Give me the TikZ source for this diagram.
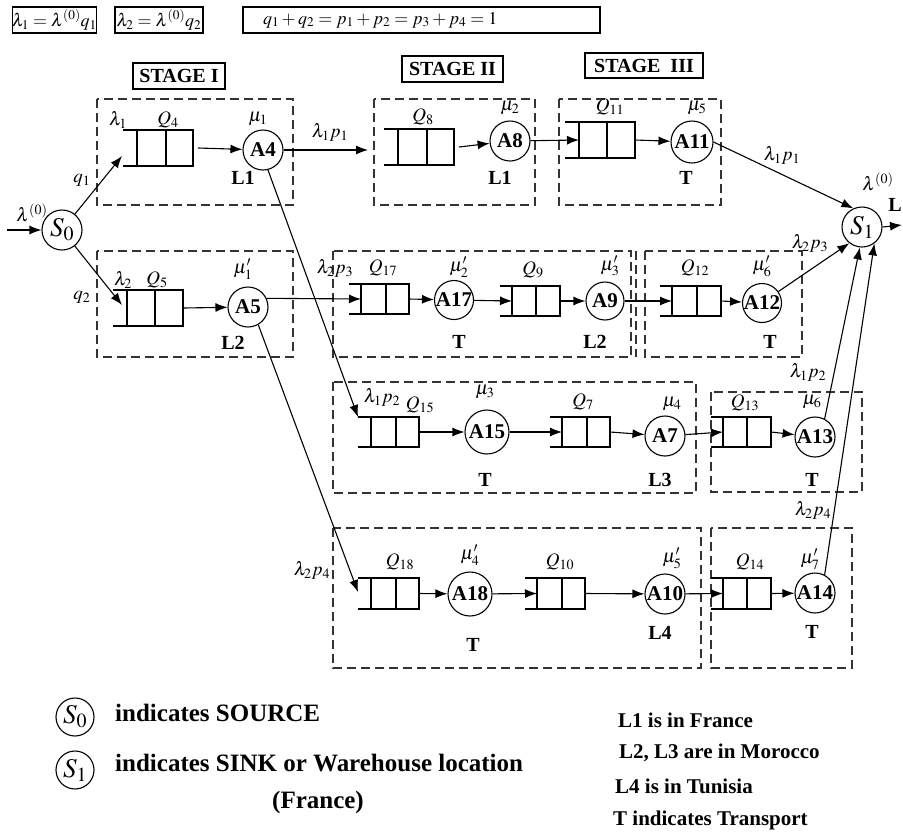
\documentclass[tikz,border=0pt]{standalone}
\usepackage{mathptmx}
\usepackage{fontspec}
\setmainfont{Liberation Serif}
\usetikzlibrary{arrows.meta}
\newcommand\myqueue[7]{%
  \node[qbox, minimum width={#5-#3}, minimum height={#7-#6}, anchor=north west] (#1) at (#3,#6) {};
  \draw[qline] (#4,#6) -- (#4,#7);
  \draw[qline] (#2,#6) -- (#1.north west) (#2,#7) -- (#1.south west);
}
\tikzset{
  qbox/.style={draw, line width=1.1pt, inner sep=0pt, outer sep=0pt},
  qline/.style={line width=1.1pt},
  srv/.style={circle, draw, line width=1.1pt, inner sep=0pt, minimum size=40pt, font=\bfseries\fontsize{21}{23}\selectfont},
  srvb/.style={srv, minimum size=44pt},
  snode/.style={circle, draw, line width=1.1pt, inner sep=0pt, minimum size=40pt, font=\fontsize{27}{29}\selectfont},
  dbox/.style={draw=black!80, line width=1.1pt, dash pattern=on 9pt off 5pt},
  arr/.style={-{Latex[length=12pt,width=9pt]}, line width=1.1pt},
  ml/.style={inner sep=0pt, font=\fontsize{19}{21}\selectfont},
  bl/.style={inner sep=0pt, font=\bfseries\fontsize{20}{22}\selectfont},
  tbox/.style={draw, line width=1.1pt, inner sep=0pt, font=\fontsize{18}{20}\selectfont},
  sbox/.style={draw, line width=1.1pt, inner sep=0pt, font=\bfseries\fontsize{20}{22}\selectfont},
  leg/.style={inner sep=0pt, font=\bfseries\fontsize{25}{27}\selectfont},
  legr/.style={inner sep=0pt, anchor=west, font=\bfseries\fontsize{21}{23}\selectfont},
}
\begin{document}
\begin{tikzpicture}[x=1pt,y=-1pt]
\fill[white] (0,0) rectangle (903,831);
\useasboundingbox (0,0) rectangle (903,831);

% top formula boxes
\node[tbox, minimum width=81pt, minimum height=26pt] (eq1) at (54.5,20) {$\lambda_1=\lambda^{(0)}q_1$};
\node[tbox, minimum width=88pt, minimum height=26pt] (eq2) at (159,20) {$\lambda_2=\lambda^{(0)}q_2$};
\node[tbox, minimum height=26pt, text width=357pt, align=left] (eq3) at (421.5,20) {\hspace*{20pt}$q_1+q_2=p_1+p_2=p_3+p_4=1$};
\node[sbox, minimum width=92pt, minimum height=26pt] (st1) at (179,76) {STAGE I};
\node[sbox, minimum width=101pt, minimum height=26pt] (st2) at (452.5,69) {STAGE II};
\node[sbox, minimum width=118pt, minimum height=25pt] (st3) at (644,65.5) {STAGE\ \ III};

% dashed stage boxes
\draw[dbox] (97,99) rectangle (293,205);
\draw[dbox] (374,99) rectangle (535,205);
\draw[dbox] (559,99) rectangle (721,205);
\draw[dbox] (97,251) rectangle (293,357);
\draw[dbox] (333,251) rectangle (631,357);
\draw[dbox] (636,251) -- (636,357);
\draw[dbox] (645,251) rectangle (802,357);
\draw[dbox] (333,382) rectangle (696,493);
\draw[dbox] (711,392) rectangle (862,492);
\draw[dbox] (333,528) rectangle (701,668);
\draw[dbox] (711,528) rectangle (852,668);

% source and sink
\node[snode] (S0) at (62,230) {$S_0$};
\node[snode] (S1) at (862,227) {$S_1$};
\coordinate (src) at (7,230);
\coordinate (snk) at (902,225);

% queues
\myqueue{Q4}{123}{137}{166}{193}{130}{166}
\myqueue{Q8}{384}{398}{427}{454}{129}{165}
\myqueue{Q11}{565}{579}{607}{635}{122}{158}
\myqueue{Q5}{113}{127}{155}{183}{290}{326}
\myqueue{Q17}{349}{361}{386}{409}{284}{314}
\myqueue{Q9}{500}{512}{536}{560}{286}{316}
\myqueue{Q12}{660}{672}{697}{721}{286}{316}
\myqueue{Q15}{358}{371}{396}{419}{417}{447}
\myqueue{Q7}{550}{562}{587}{610}{417}{447}
\myqueue{Q13}{711}{723}{747}{771}{417}{447}
\myqueue{Q18}{358}{371}{396}{419}{578}{609}
\myqueue{Q10}{525}{537}{562}{585}{578}{609}
\myqueue{Q14}{711}{723}{747}{771}{578}{609}

% servers
\node[srv] (A4) at (263,150) {A4};
\node[srv] (A8) at (510,141) {A8};
\node[srv, minimum size=42pt] (A11) at (692,142) {A11};
\node[srv] (A5) at (248,307) {A5};
\node[srv, minimum size=39pt] (A17) at (454,300) {A17};
\node[srv, minimum size=38pt] (A9) at (605,301) {A9};
\node[srv, minimum size=39pt] (A12) at (762,303) {A12};
\node[srvb] (A15) at (487,432) {A15};
\node[srv] (A7) at (665,436) {A7};
\node[srv] (A13) at (815,437) {A13};
\node[srvb] (A18) at (470,594) {A18};
\node[srv] (A10) at (665,594) {A10};
\node[srv] (A14) at (815,593) {A14};

% free ends
\coordinate (tq4) at (122,156);
\coordinate (tq5) at (122,305);
\coordinate (in2) at (368,150);
\coordinate (tq15) at (358,417);
\coordinate (tq18) at (358,592);

% connectors
\draw[arr] (src) -- (S0);
\draw[arr] (S0) -- (tq4);
\draw[arr] (S0) -- (tq5);
\draw[arr] ([xshift=5pt]Q4.east) -- (A4);
\draw[arr] (A4.east) -- (in2);
\draw[arr] ([xshift=5pt]Q8.east) -- (A8);
\draw[arr] (A8) -- (Q11.west);
\draw[arr] (Q11.east) -- (A11);
\draw[arr] (A11.east) -- (S1.115);
\draw[arr] (S1.east) -- (snk);
\draw[arr] (Q5.east) -- (A5);
\draw[arr] (A5.25) -- (Q17.west);
\draw[arr] (Q17.east) -- (A17);
\draw[arr] (A17) -- (Q9.west);
\draw[arr] (Q9.east) -- (A9);
\draw[arr] (A9) -- (Q12.west);
\draw[arr] (Q12.east) -- (A12);
\draw[arr] (A12.35) -- (S1.232);
\draw[arr] (A4.284) -- (tq15);
\draw[arr] (Q15.east) -- (A15);
\draw[arr] (A15) -- (Q7.west);
\draw[arr] (Q7.east) -- (A7);
\draw[arr] (A7) -- (Q13.west);
\draw[arr] (Q13.east) -- (A13);
\draw[arr] (A13.62) -- (S1.264);
\draw[arr] (A5.300) -- (tq18);
\draw[arr] (Q18.east) -- (A18);
\draw[arr] (A18) -- (Q10.west);
\draw[arr] (Q10.east) -- (A10);
\draw[arr] (A10) -- (Q14.west);
\draw[arr] (Q14.east) -- (A14);
\draw[arr] (A14.62) -- (S1.307);

% labels row 1
\node[ml] (t1) at (32,213) {$\lambda^{(0)}$};
\node[ml] (t2) at (82,180) {$q_1$};
\node[ml] (t3) at (82,297) {$q_2$};
\node[ml] (t4) at (118,120) {$\lambda_1$};
\node[ml] (t5) at (168,120) {$Q_4$};
\node[ml] (t6) at (258,119) {$\mu_1$};
\node[bl] (t7) at (243,178) {L1};
\node[ml] (t8) at (330,132) {$\lambda_1 p_1$};
\node[ml] (t9) at (423,117) {$Q_8$};
\node[ml] (t10) at (510,108) {$\mu_2$};
\node[bl] (t11) at (500,178) {L1};
\node[ml] (t12) at (610,107) {$Q_{11}$};
\node[ml] (t13) at (697,108) {$\mu_5$};
\node[bl] (t14) at (686,178) {T};
\node[ml] (t15) at (782,155) {$\lambda_1 p_1$};
\node[ml] (t16) at (878,182) {$\lambda^{(0)}$};
\node[bl] (t17) at (895,205) {L};
% row 2
\node[ml] (t18) at (123,280) {$\lambda_2$};
\node[ml] (t19) at (157,280) {$Q_5$};
\node[ml] (t20) at (243,269) {$\mu'_1$};
\node[bl] (t21) at (233,343) {L2};
\node[ml] (t22) at (335,268) {$\lambda_2 p_3$};
\node[ml] (t23) at (383,268) {$Q_{17}$};
\node[ml] (t24) at (459,267) {$\mu'_2$};
\node[bl] (t25) at (459,342) {T};
\node[ml] (t26) at (533,270) {$Q_9$};
\node[ml] (t27) at (610,266) {$\mu'_3$};
\node[bl] (t28) at (595,342) {L2};
\node[ml] (t29) at (695,268) {$Q_{12}$};
\node[ml] (t30) at (762,266) {$\mu'_6$};
\node[bl] (t31) at (770,342) {T};
\node[ml] (t32) at (810,243) {$\lambda_2 p_3$};
% row 3
\node[ml] (t33) at (382,397) {$\lambda_1 p_2$};
\node[ml] (t34) at (420,405) {$Q_{15}$};
\node[ml] (t35) at (485,392) {$\mu_3$};
\node[bl] (t36) at (485,480) {T};
\node[ml] (t37) at (583,402) {$Q_7$};
\node[ml] (t38) at (672,404) {$\mu_4$};
\node[bl] (t39) at (660,480) {L3};
\node[ml] (t40) at (745,403) {$Q_{13}$};
\node[ml] (t41) at (812,402) {$\mu_6$};
\node[bl] (t42) at (812,480) {T};
\node[ml] (t43) at (808,372) {$\lambda_1 p_2$};
% row 4
\node[ml] (t44) at (312,570) {$\lambda_2 p_4$};
\node[ml] (t45) at (400,562) {$Q_{18}$};
\node[ml] (t46) at (470,555) {$\mu'_4$};
\node[bl] (t47) at (473,645) {T};
\node[ml] (t48) at (560,562) {$Q_{10}$};
\node[ml] (t49) at (672,558) {$\mu'_5$};
\node[bl] (t50) at (660,633) {L4};
\node[ml] (t51) at (750,562) {$Q_{14}$};
\node[ml] (t52) at (810,559) {$\mu'_7$};
\node[bl] (t53) at (812,632) {T};
\node[ml] (t54) at (813,510) {$\lambda_2 p_4$};

% legend
\node[snode, minimum size=38pt] (lS0) at (75,717) {$S_0$};
\node[snode, minimum size=38pt] (lS1) at (75,770) {$S_1$};
\node[leg, anchor=west] (g1) at (115,713) {indicates SOURCE};
\node[leg, anchor=west] (g2) at (115,763) {indicates SINK or Warehouse location};
\node[leg] (g3) at (318,802) {(France)};
\node[legr] (g4) at (618,720) {L1 is in France};
\node[legr] (g5) at (619,753) {L2, L3 are in Morocco};
\node[legr] (g6) at (615,786) {L4 is in Tunisia};
\node[legr] (g7) at (613,820) {T indicates Transport};
\end{tikzpicture}
\end{document}
